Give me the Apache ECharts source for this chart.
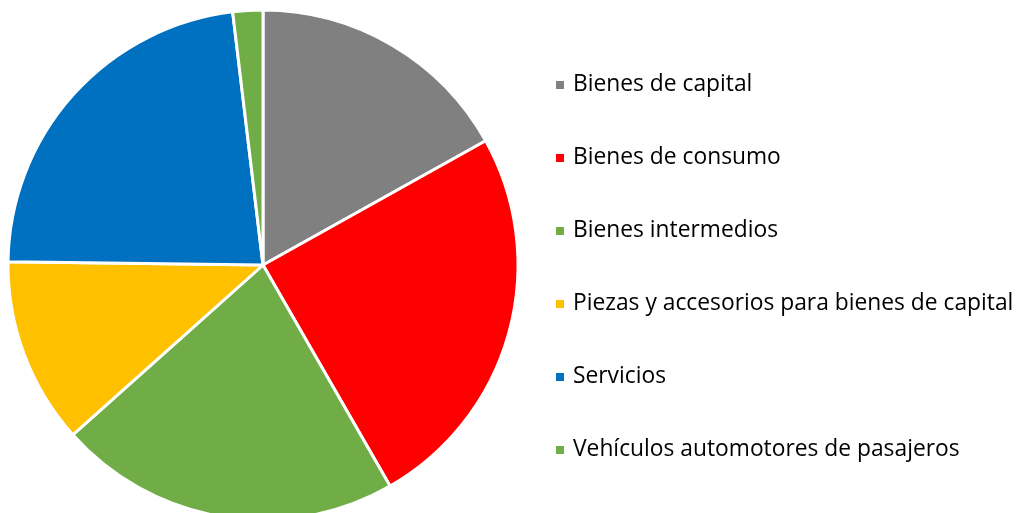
<!DOCTYPE html>
<html>
<head>
<meta charset="utf-8">
<script src="https://cdn.jsdelivr.net/npm/echarts@6/dist/echarts.min.js"></script>
<style>
  html, body { margin: 0; padding: 0; background: #fff; }
  #chart { width: 1022px; height: 513px; }
</style>
</head>
<body>
<div id="chart"></div>
<script>
const categories = [
  'Bienes de capital',
  'Bienes de consumo',
  'Bienes intermedios',
  'Piezas y accesorios para bienes de capital',
  'Servicios',
  'Vehículos automotores de pasajeros'
]
const values = [16.9, 24.8, 21.7, 11.8, 22.9, 1.9]
const colors = ['#808080', '#ff0000', '#70ad47', '#ffc000', '#0070c0', '#70ad47']

const chart = echarts.init(document.getElementById('chart'))

const option = {
  animation: false,
  color: colors,
  legend: {
    orient: 'vertical',
    left: 549,
    top: 68,
    itemWidth: 10,
    itemHeight: 10,
    itemGap: 49,
    icon: 'rect',
    textStyle: {
      fontFamily: 'Open Sans',
      fontSize: 22.8,
      color: '#000',
      lineHeight: 24,
      padding: [0, 0, 0, 3]
    },
    data: categories
  },
  series: [
    {
      type: 'pie',
      center: [263, 265],
      radius: 255,
      startAngle: 90,
      clockwise: true,
      label: { show: false },
      labelLine: { show: false },
      itemStyle: { borderColor: '#fff', borderWidth: 3 },
      emphasis: { disabled: true },
      data: categories.map((name, i) => ({ name: name, value: values[i] }))
    }
  ]
}

chart.setOption(option)
</script>
</body>
</html>
